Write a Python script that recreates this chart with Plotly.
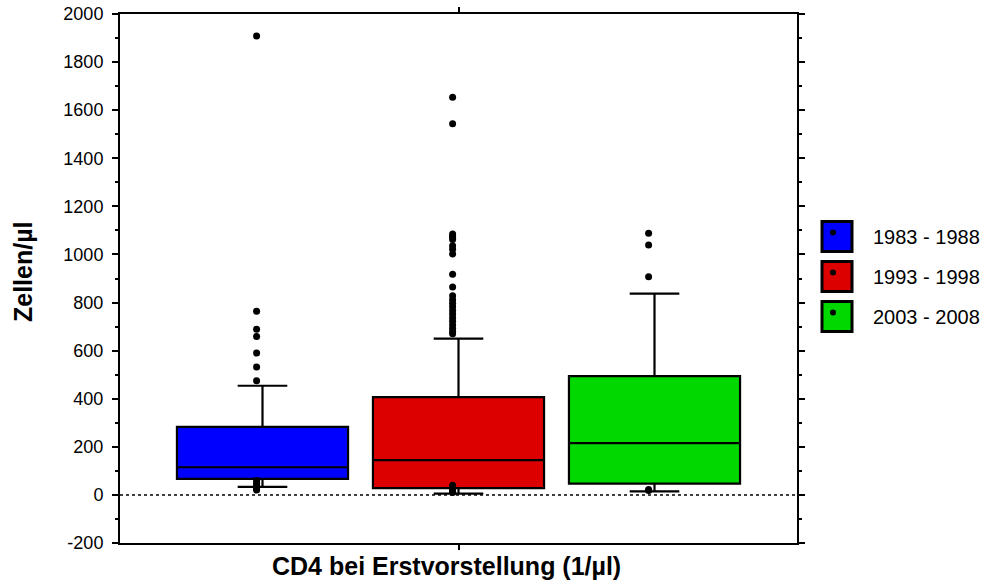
import plotly.graph_objects as go

# ---- data ----
groups = ["1983 - 1988", "1993 - 1998", "2003 - 2008"]
colors = ["#0000ff", "#dd0000", "#00d800"]
q1 = [67, 28, 47]
median = [115, 145, 215]
q3 = [283, 407, 494]
lowerfence = [33, 5, 15]
upperfence = [454, 650, 837]
outliers_1 = [1909, 764, 689, 659, 590, 532, 475, 60, 50, 42, 35, 26, 20]
outliers_2 = [1654, 1544, 1085, 1078, 1070, 1062, 1036, 1022, 1002, 918, 865,
              828, 812, 797, 782, 767, 752, 737, 722, 707, 692, 680, 670,
              40, 30, 22, 15, 10]
outliers_3 = [1088, 1039, 907, 23, 18]
outliers = [outliers_1, outliers_2, outliers_3]

y_ticks = list(range(-200, 2001, 200))
y_tick_labels = [str(v) for v in y_ticks]

# ---- layout geometry (pixels) ----
W, H = 989, 584
L, R, T, B = 120, 797, 14, 543
FONT = "Liberation Sans, Arial, sans-serif"

def px_x(px):
    return (px - L) / (R - L)

def px_y(py):
    return (B - py) / (B - T)

fig = go.Figure()

for i, g in enumerate(groups):
    fig.add_trace(go.Box(
        x=[i], q1=[q1[i]], median=[median[i]], q3=[q3[i]],
        lowerfence=[lowerfence[i]], upperfence=[upperfence[i]],
        fillcolor=colors[i], line=dict(color="black", width=2.2),
        width=0.873, whiskerwidth=0.29, boxpoints=False,
        name=g, showlegend=False, hoverinfo="skip",
    ))
    fig.add_trace(go.Scatter(
        x=[i - 0.03] * len(outliers[i]), y=outliers[i], mode="markers",
        marker=dict(color="black", size=7, symbol="circle"),
        showlegend=False, hoverinfo="skip",
    ))

shapes = [dict(type="line", xref="paper", yref="y", x0=0, x1=1, y0=0, y1=0,
               line=dict(color="black", width=1.5, dash="dot"), layer="below")]
annotations = []

leg_cx = 837
leg_cy = [236.5, 276.5, 316.5]
for i, g in enumerate(groups):
    shapes.append(dict(type="rect", xref="paper", yref="paper",
                       xsizemode="pixel", ysizemode="pixel",
                       xanchor=px_x(leg_cx), yanchor=px_y(leg_cy[i]),
                       x0=-15, x1=15, y0=-15, y1=15,
                       fillcolor=colors[i], line=dict(color="black", width=3)))
    shapes.append(dict(type="circle", xref="paper", yref="paper",
                       xsizemode="pixel", ysizemode="pixel",
                       xanchor=px_x(leg_cx), yanchor=px_y(leg_cy[i]),
                       x0=-7, x1=-1, y0=1, y1=7,
                       fillcolor="black", line=dict(color="black", width=0)))
    annotations.append(dict(text=g, xref="paper", yref="paper",
                            x=px_x(871), y=px_y(leg_cy[i]), xanchor="left",
                            yanchor="middle", showarrow=False,
                            font=dict(family=FONT, size=20, color="black")))

annotations.append(dict(text="<b>Zellen/µl</b>", xref="paper", yref="paper",
                        x=px_x(23), y=px_y(272), textangle=-90, showarrow=False,
                        xanchor="center", yanchor="middle",
                        font=dict(family=FONT, size=25, color="black")))
annotations.append(dict(text="<b>CD4 bei Erstvorstellung (1/µl)</b>", xref="paper", yref="paper",
                        x=px_x(446), y=px_y(566), showarrow=False,
                        xanchor="center", yanchor="middle",
                        font=dict(family=FONT, size=25, color="black")))

fig.update_layout(
    width=W, height=H,
    margin=dict(l=L, r=W - R, t=T, b=H - B, pad=0, autoexpand=False),
    paper_bgcolor="white", plot_bgcolor="white",
    shapes=shapes, annotations=annotations,
    font=dict(family=FONT, size=18, color="black"),
    xaxis=dict(range=[-0.727, 2.727], tickvals=[1], ticktext=[""],
               ticks="outside", ticklen=5, tickwidth=1.5, tickcolor="black",
               showline=True, linecolor="black", linewidth=2, mirror="ticks",
               showgrid=False, zeroline=False, automargin=False),
    yaxis=dict(range=[-200, 2000], tickvals=y_ticks, ticktext=y_tick_labels,
               ticks="outside", ticklen=6, tickwidth=1.5, tickcolor="black",
               minor=dict(dtick=100, ticks="outside", ticklen=3, tickwidth=1.5, tickcolor="black"),
               showline=True, linecolor="black", linewidth=2, mirror="ticks",
               showgrid=False, zeroline=False, ticklabelstandoff=5, automargin=False,
               tickfont=dict(family=FONT, size=18, color="black")),
)

fig.write_html("out.html", config={"displayModeBar": False},
               post_script="document.body.style.margin='0px';")
